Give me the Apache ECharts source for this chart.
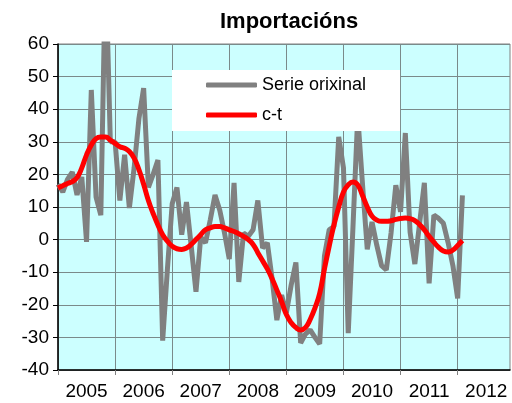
<!DOCTYPE html>
<html>
<head>
<meta charset="utf-8">
<script src="https://cdn.jsdelivr.net/npm/echarts@6/dist/echarts.min.js"></script>
<style>
  html, body { margin: 0; padding: 0; background: #fff; }
  #chart { width: 512px; height: 403px; }
</style>
</head>
<body>
<div id="chart"></div>
<script>
// anos do eixo X (un tramo de 12 meses cada un)
var years = ['2005', '2006', '2007', '2008', '2009', '2010', '2011', '2012']

// serie mensual orixinal, xaneiro 2005 - febreiro 2012
var serieOrixinal = [
  17, 14.6, 18.5, 20.7, 13.7, 19.2, -0.7, 45.9, 13, 7.5, 85, 30,
  30, 12, 26, 9.7, 22, 37, 46.5, 16, 20, 24.4, -31, -9,
  11, 16, 1.5, 11.5, -2, -16, 0.8, -1, 6, 13.7, 9, 2,
  -6, 17.4, -13, 2, 1, 3, 12, -2.6, -1, -12, -24.7, -17,
  -22.5, -14, -7, -31.7, -29, -27.7, -30, -32, -5, 3, 4, 31.5,
  22, -28.7, 4, 38, 17, -3, 5.4, -1.7, -8, -9.3, 2, 16.7,
  8.5, 32.7, 2.3, -7.5, 5, 17.4, -13.4, 7.5, 6.5, 5, -1, -8,
  -18, 13.6
]

// ciclo-tendencia
var ct = [
  15.8, 16.5, 17.2, 17.8, 19, 22, 26, 29, 31, 31.5, 31.5, 30.5,
  29.5, 28.5, 28, 27, 25, 21.5, 17, 12, 8, 4.5, 1.5, -0.5,
  -2, -2.8, -3, -2.6, -1.5, 0, 1.5, 3, 3.6, 4, 4, 3.6,
  3, 2.5, 1.8, 1, 0, -1.5, -4, -6.5, -9, -12, -15.5, -19,
  -23, -25.5, -27, -27.7, -27, -24.5, -21, -16.5, -9, -2, 4.5, 10,
  14.6, 16.8, 17.7, 16.8, 13.5, 10, 7.2, 6, 5.6, 5.6, 5.8, 6.2,
  6.5, 6.6, 6.4, 5.8, 4.6, 3, 1, -0.8, -2.4, -3.5, -3.8, -3.2,
  -1.8, -0.3
]

// meses do eixo (o ultimo ano queda cortado no borde)
var months = []
years.forEach(function (y) {
  for (var m = 1; m <= 12; m++) {
    months.push(y + '-' + (m < 10 ? '0' + m : m))
  }
})

var font = 'Liberation Sans, Arial, sans-serif'

var option = {
  animation: false,
  title: {
    text: 'Importacións',
    left: 215,
    top: 6,
    textStyle: { fontFamily: font, fontSize: 22, fontWeight: 'bold', color: '#000' }
  },
  legend: {
    orient: 'vertical',
    left: 172,
    top: 70,
    padding: [5, 34, 6, 34],
    backgroundColor: '#fff',
    itemWidth: 51,
    itemHeight: 5,
    itemGap: 10,
    icon: 'roundRect',
    textStyle: { fontFamily: font, fontSize: 18, color: '#000', lineHeight: 20 },
    data: ['Serie orixinal', 'c-t']
  },
  grid: {
    left: 58,
    right: 2,
    top: 44,
    bottom: 33,
    show: true,
    backgroundColor: '#CCFFFF',
    borderColor: '#808080',
    borderWidth: 1
  },
  xAxis: {
    type: 'category',
    boundaryGap: false,
    data: months.slice(0, 96),
    axisLine: { onZero: false, lineStyle: { color: '#000', width: 1.5 } },
    axisTick: {
      interval: function (i) { return i % 12 === 0 },
      length: 5,
      lineStyle: { color: '#808080' }
    },
    splitLine: {
      show: true,
      interval: function (i) { return i % 12 === 0 },
      lineStyle: { color: '#7a8a8a', width: 1 }
    },
    axisLabel: {
      interval: function (i) { return i % 12 === 6 },
      formatter: function (v) { return v.slice(0, 4) },
      margin: 12,
      fontFamily: font,
      fontSize: 19,
      color: '#000'
    }
  },
  yAxis: {
    type: 'value',
    min: -40,
    max: 60,
    interval: 10,
    axisLine: { show: true, onZero: false, lineStyle: { color: '#000', width: 1.5 } },
    axisTick: { show: true, length: 5, lineStyle: { color: '#000' } },
    splitLine: { lineStyle: { color: '#7a8a8a', width: 1 } },
    axisLabel: { margin: 9, fontFamily: font, fontSize: 19, color: '#000' }
  },
  series: [
    {
      name: 'Serie orixinal',
      type: 'line',
      data: serieOrixinal,
      symbol: 'none',
      color: '#808080',
      lineStyle: { color: '#808080', width: 5 },
      z: 2
    },
    {
      name: 'c-t',
      type: 'line',
      data: ct,
      smooth: true,
      symbol: 'none',
      color: '#FF0000',
      lineStyle: { color: '#FF0000', width: 5 },
      z: 3
    }
  ]
}

echarts.init(document.getElementById('chart')).setOption(option)
</script>
</body>
</html>
